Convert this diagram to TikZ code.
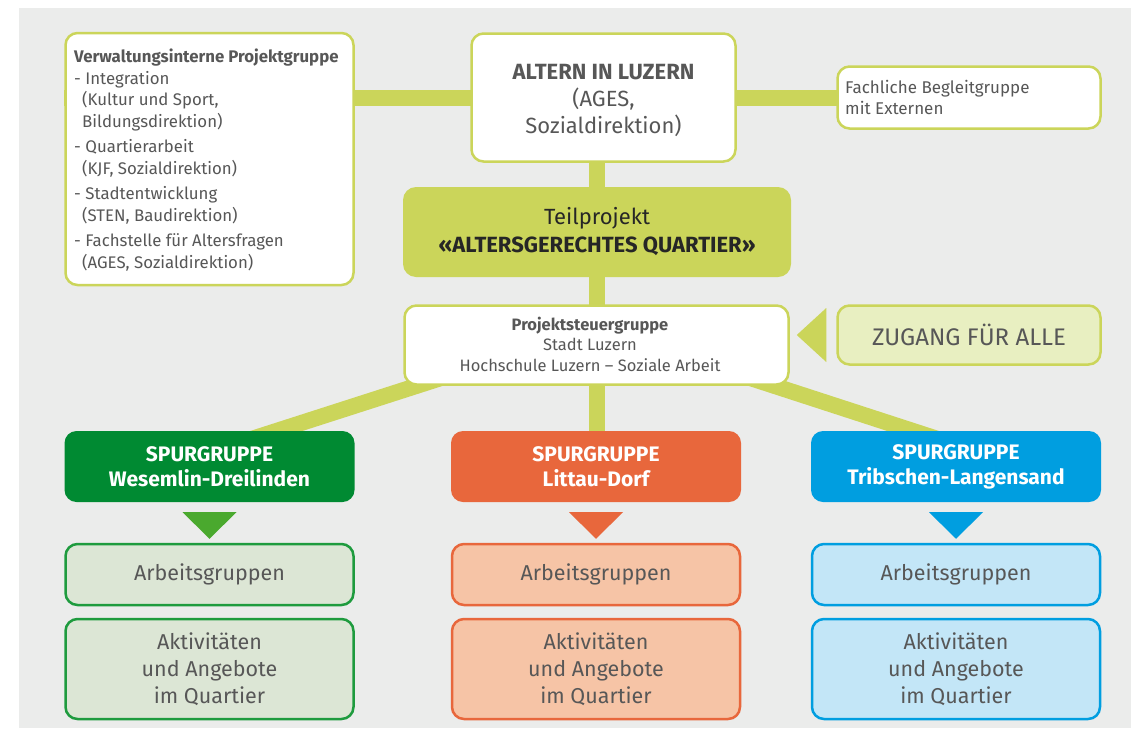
\documentclass[tikz,border=0pt]{standalone}
\usepackage{fontspec}
\setmainfont{Fira Sans}
\usetikzlibrary{calc}
\definecolor{bgc}{HTML}{EBECEB}
\definecolor{limec}{HTML}{CBD55A}
\definecolor{limel}{HTML}{E8EFC1}
\definecolor{txtc}{HTML}{575757}
\definecolor{dgreen}{HTML}{008A32}
\definecolor{tgreen}{HTML}{4AA92E}
\definecolor{lgreen}{HTML}{DCE6D5}
\definecolor{bgreen}{HTML}{1E9B3E}
\definecolor{corange}{HTML}{E8673C}
\definecolor{lorange}{HTML}{F6C4A6}
\definecolor{cblue}{HTML}{009EE0}
\definecolor{lblue}{HTML}{C3E6F7}
\tikzset{
  bar/.style={draw=limec, line width=16pt},
  wbox/.style={draw=limec, fill=white, line width=2.5pt, rounded corners=12pt, text=txtc, align=center, inner sep=0pt},
  btext/.style={text=txtc, align=center, inner sep=0pt},
  teilbox/.style={fill=limec, rounded corners=13pt, text=black!85, align=center, inner sep=0pt},
  zugbox/.style={draw=limec, fill=limel, line width=2.5pt, rounded corners=12pt, text=txtc, inner sep=0pt},
  spur/.style={fill=#1, rounded corners=12pt, text=white, align=center, inner sep=0pt, minimum width=290pt, minimum height=71pt, font=\fontsize{21}{25}\selectfont\bfseries},
  sub/.style 2 args={draw=#1, fill=#2, line width=2.5pt, rounded corners=12pt, text=txtc, align=center, inner sep=0pt, minimum width=288pt, font=\fontsize{21.5}{27}\selectfont},
}
\begin{document}
\begin{tikzpicture}[x=1pt,y=-1pt]
\useasboundingbox (0,0) rectangle (1131,728);
\fill[bgc] (19,8) rectangle (1131,728);
\coordinate (hub) at (596.5,328);
\coordinate (e1) at (239,443);
\coordinate (e3) at (950,443);
% bars
\draw[bar] (64,97.5) -- (1000,97.5);
\draw[bar] (597,150) -- (597,470);
\draw[bar] (hub) -- (e1);
\draw[bar] (hub) -- (e3);
% boxes
\node[wbox, minimum width=288pt, minimum height=252pt] (vpg) at (209.5,159) {};
\node[anchor=north west, text=txtc, align=left, inner sep=0pt, font=\fontsize{16.8}{21.5}\selectfont] (vpgt) at (74,49)
 {\textbf{Verwaltungsinterne Projektgruppe}\\
 - Integration\\
 \hspace*{8pt}(Kultur und Sport,\\
 \hspace*{8pt}Bildungsdirektion)\\[4pt]
 - Quartierarbeit\\
 \hspace*{8pt}(KJF, Sozialdirektion)\\[4pt]
 - Stadtentwicklung\\
 \hspace*{8pt}(STEN, Baudirektion)\\[4pt]
 - Fachstelle für Altersfragen\\
 \hspace*{8pt}(AGES, Sozialdirektion)};
\node[wbox, minimum width=264pt, minimum height=128pt] (alt) at (603.5,97.5) {};
\node[btext, font=\fontsize{22}{27}\selectfont] (altt) at (603.5,100.5)
 {\textbf{ALTERN IN LUZERN}\\(AGES,\\Sozialdirektion)};
\node[wbox, minimum width=263pt, minimum height=62pt] (fach) at (969,97.5) {};
\node[anchor=north west, text=txtc, align=left, inner sep=0pt, font=\fontsize{17}{21}\selectfont] (facht) at (845,80)
 {Fachliche Begleitgruppe\\mit Externen};
\node[teilbox, minimum width=388pt, minimum height=90pt, font=\fontsize{22}{28}\selectfont] (teil) at (597,232)
 {Teilprojekt\\\textbf{«ALTERSGERECHTES QUARTIER»}};
\node[wbox, minimum width=384pt, minimum height=79pt] (psg) at (596.5,345) {};
\node[btext, font=\fontsize{16.5}{20.5}\selectfont] (psgt) at (590,344)
 {\textbf{Projektsteuergruppe}\\Stadt Luzern\\Hochschule Luzern – Soziale Arbeit};
\node[zugbox, minimum width=263pt, minimum height=59pt, font=\fontsize{24}{26}\selectfont] (zug) at (969,335) {ZUGANG FÜR ALLE};
\fill[limec] ($(zug.west)+(-10,-27)$) -- ($(zug.west)+(-10,27)$) -- ($(psg.east)+(7,-10)$) -- cycle;
% spur groups
\node[spur=dgreen] (sp1) at (209.5,466.5) {SPURGRUPPE\\Wesemlin-Dreilinden};
\node[spur=corange] (sp2) at (596,466.5) {SPURGRUPPE\\Littau-Dorf};
\node[spur=cblue] (sp3) at (956,466.5) {SPURGRUPPE\\Tribschen-Langensand};
\node[sub={bgreen}{lgreen}, minimum height=61pt] (ag1) at (209.5,574.5) {Arbeitsgruppen};
\node[sub={corange}{lorange}, minimum height=61pt] (ag2) at (596,574.5) {Arbeitsgruppen};
\node[sub={cblue}{lblue}, minimum height=61pt] (ag3) at (956,574.5) {Arbeitsgruppen};
\node[sub={bgreen}{lgreen}, minimum height=100pt] (ak1) at (209.5,669) {Aktivitäten\\und Angebote\\im Quartier};
\node[sub={corange}{lorange}, minimum height=100pt] (ak2) at (596,669) {Aktivitäten\\und Angebote\\im Quartier};
\node[sub={cblue}{lblue}, minimum height=100pt] (ak3) at (956,669) {Aktivitäten\\und Angebote\\im Quartier};
% pointer triangles
\fill[tgreen] ($(sp1.south)+(-27,10)$) -- ($(sp1.south)+(27,10)$) -- ($(ag1.north)+(0,-4)$) -- cycle;
\fill[corange] ($(sp2.south)+(-27,10)$) -- ($(sp2.south)+(27,10)$) -- ($(ag2.north)+(0,-4)$) -- cycle;
\fill[cblue] ($(sp3.south)+(-27,10)$) -- ($(sp3.south)+(27,10)$) -- ($(ag3.north)+(0,-4)$) -- cycle;
\end{tikzpicture}
\end{document}
